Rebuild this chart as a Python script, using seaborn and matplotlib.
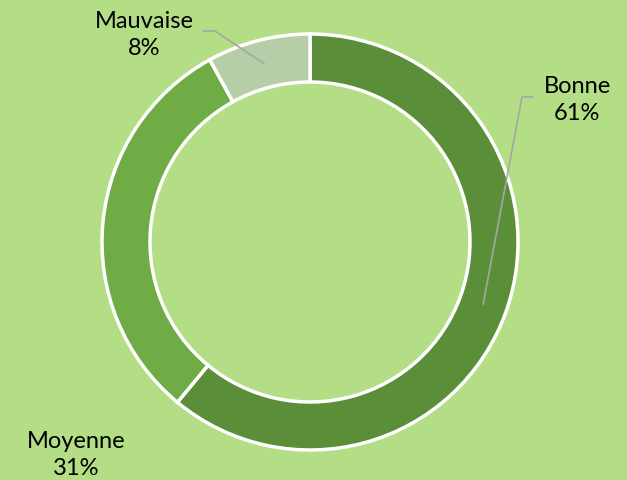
import numpy as np
import matplotlib
matplotlib.use('Agg')
import matplotlib.pyplot as plt
import seaborn as sns

# données du graphique (qualité)
categories = ['Bonne', 'Moyenne', 'Mauvaise']
valeurs = [61, 31, 8]
couleurs = ['#5a8e39', '#6fac46', '#b5cea7']

sns.set_theme(style='white')
plt.rcParams['font.family'] = ['Lato', 'DejaVu Sans']

fond = '#b3de86'
W, H = 627, 481
fig = plt.figure(figsize=(W / 100, H / 100), dpi=100, facecolor=fond)
ax = fig.add_axes([0, 0, 1, 1])
ax.set_facecolor(fond)

# centre / rayon en pixels (y vers le haut)
cx, cy, R, largeur = 310, 481 - 243, 208, 48
wedges, _ = ax.pie(valeurs, colors=couleurs, startangle=90, counterclock=False,
                   radius=R, center=(cx, cy), frame=True,
                   wedgeprops=dict(width=largeur, edgecolor='white', linewidth=2.5))

ax.set_xlim(0, W)
ax.set_ylim(0, H)
ax.set_aspect('equal')
ax.axis('off')

# position des étiquettes (px, y depuis le haut) et traits de rappel
pos_labels = {'Bonne': (577, 100), 'Moyenne': (76, 455), 'Mauvaise': (144, 35)}
rappel = {'Bonne': (533, 98, -11), 'Mauvaise': (203, 32, 12)}

for w, cat, v in zip(wedges, categories, valeurs):
    lx, ly = pos_labels[cat]
    ax.text(lx, H - ly, f'{cat}\n{v}%', ha='center', va='center',
            fontsize=17, color='black', linespacing=1.4)
    if cat in rappel:
        ang = np.deg2rad((w.theta1 + w.theta2) / 2)
        r_mid = R - largeur / 2
        px, py = cx + r_mid * np.cos(ang), cy + r_mid * np.sin(ang)
        x0, y0, d = rappel[cat]
        ax.plot([x0, x0 + d, px], [H - y0, H - y0, py], color='#a6a6a6', lw=1.2)

fig.savefig('out.png', dpi=100, facecolor=fond)
